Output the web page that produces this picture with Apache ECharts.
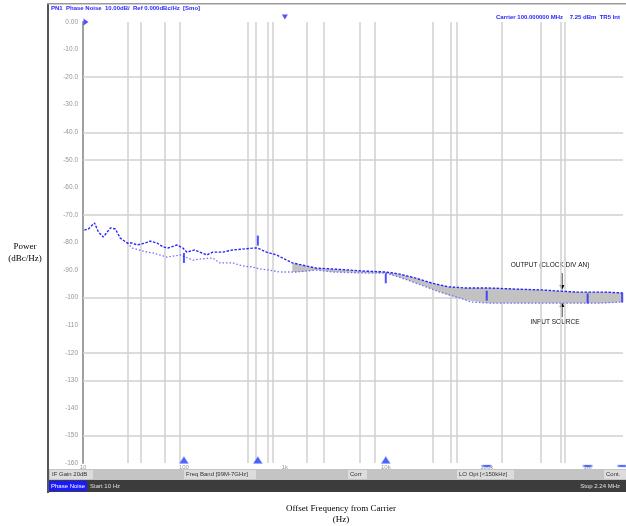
<!DOCTYPE html>
<html><head><meta charset="utf-8">
<script src="https://cdn.jsdelivr.net/npm/echarts@6/dist/echarts.min.js"></script>
<style>html,body{margin:0;padding:0;background:#fff}#c{width:626px;height:526px}</style>
</head><body><div id="c"></div>
<script>
// ---- data ----
const outputFreqHz = [10.3, 11.3, 13.0, 14.2, 15.9, 18.7, 20.9, 23.4, 27.4, 30.7, 34.4, 41.3, 46.2, 54.2, 62.1, 69.5, 85.3, 97.7, 107, 128, 144, 169, 193, 242, 304, 381, 501, 536, 658, 825, 945, 1186, 1487, 2042, 2936, 6350, 10000, 13430, 19760, 28400, 41770, 61400, 103500, 191000, 344500, 506000, 796000, 1469000, 2213000];
const outputDb = [-75.5, -75.1, -72.9, -76.2, -78.0, -74.7, -75.1, -78.4, -80.2, -80.2, -80.9, -80.2, -79.5, -80.2, -81.6, -82.0, -80.9, -82.0, -83.5, -82.7, -83.5, -84.5, -83.5, -83.5, -82.7, -82.4, -82.0, -82.0, -83.5, -84.5, -85.6, -87.4, -88.2, -89.3, -89.6, -90.4, -90.7, -91.4, -92.9, -94.7, -96.1, -96.5, -96.5, -96.9, -97.2, -97.6, -98.0, -98.0, -98.3];
const inputFreqHz = [27.4, 30.7, 43.2, 49.5, 68.1, 91.4, 123, 144, 193, 226, 304, 381, 478, 561, 703, 883, 1298, 2042, 2936, 6350, 10000, 13430, 19760, 34400, 54200, 70400, 110700, 274000, 593000, 1256000, 2213000];
const inputDb = [-80.2, -82.0, -83.5, -83.8, -85.3, -84.5, -86.4, -86.0, -85.6, -87.4, -87.4, -88.5, -88.9, -89.6, -90.0, -90.7, -90.7, -90.0, -90.7, -91.1, -91.1, -92.5, -94.7, -98.0, -100.1, -101.6, -102.0, -102.0, -102.0, -102.0, -101.6];
const bandFreqHz = [1186, 1487, 2042, 2936, 6350, 10000, 13430, 19760, 28400, 41770, 61400, 103500, 191000, 344500, 506000, 796000, 1469000, 2213000];
const bandUpperDb = [-87.4, -88.2, -89.3, -89.6, -90.4, -90.7, -91.4, -92.9, -94.7, -96.1, -96.5, -96.5, -96.9, -97.2, -97.6, -98.0, -98.0, -98.3];
const bandLowerDb = [-90.7, -90.7, -90.0, -90.7, -91.1, -91.1, -92.5, -94.7, -96.9, -99.1, -100.9, -102.0, -102.0, -102.0, -102.0, -102.0, -102.0, -101.6];
const markerFreqHz = [100, 540, 10000, 100000, 1000000, 2200000];
const markerDb = [-85.6, -79.3, -93.0, -99.3, -100.3, -100.0];
const activeMarkerHz = 1000;
const hGridDb = [-20, -40, -50, -70, -100, -120, -130, -150];
const vGridHz = [28, 37.5, 65, 91, 430, 515, 680, 760, 1650, 2430, 5530, 7780, 29200, 44000, 50400, 140800, 342700, 540600, 591600];
const xTickLabels = {10: '10', 100: '100', 1000: '1k', 10000: '10k', 100000: '100k', 1000000: '1M'};
const yMin = -160, yMax = 0, yStep = 10;
const xMin = 10, xMax = 2.24e6;

// ---- chart ----
const chart = echarts.init(document.getElementById('c'));
const blue = '#2626ff';
const gridColor = '#d0d0d0';
const pairs = (xs, ys) => xs.map((x, i) => [x, ys[i]]);

chart.setOption({
  animation: false,
  grid: {left: 83, right: 0, top: 22, bottom: 63},
  xAxis: {
    type: 'log', logBase: 10, min: xMin, max: xMax,
    axisLine: {show: false}, axisTick: {show: false}, splitLine: {show: false},
    axisLabel: {fontSize: 6, color: '#9a9a9a', margin: 1, fontFamily: 'Liberation Sans',
      formatter: v => xTickLabels[Math.round(v)] || ''}
  },
  yAxis: {
    type: 'value', min: yMin, max: yMax, interval: yStep,
    axisLine: {show: true, lineStyle: {color: '#a0a0a0', width: 2}},
    axisTick: {show: false}, splitLine: {show: false},
    axisLabel: {fontSize: 6.5, margin: 5, fontFamily: 'Liberation Sans',
      color: v => (v === 0 ? blue : '#959595'),
      formatter: v => (v === 0 ? '0.00' : (v > -100 ? v.toFixed(1) : String(v)))}
  },
  series: [
    {
      type: 'custom', name: 'band', silent: true, z: 2,
      data: bandFreqHz.map((f, i) => [f, bandUpperDb[i], bandLowerDb[i]]),
      encode: {x: 0, y: [1, 2]},
      renderItem: (params, api) => {
        if (params.dataIndex !== 0) return null;
        const pts = [];
        for (let i = 0; i < bandFreqHz.length; i++) pts.push(api.coord([bandFreqHz[i], bandUpperDb[i]]));
        for (let i = bandFreqHz.length - 1; i >= 0; i--) pts.push(api.coord([bandFreqHz[i], bandLowerDb[i]]));
        return {type: 'polygon', shape: {points: pts}, style: {fill: '#c2c2c2'}};
      }
    },
    {
      type: 'line', name: 'INPUT SOURCE', data: pairs(inputFreqHz, inputDb),
      symbol: 'none', z: 3, lineStyle: {color: '#6f6fff', width: 1.3, type: [1.5, 2]},
      markLine: {
        silent: true, z: 1, symbol: ['none', 'none'], label: {show: false},
        lineStyle: {color: gridColor, width: 1.5, type: 'solid'},
        emphasis: {disabled: true},
        data: vGridHz.map(f => ({xAxis: f})).concat(hGridDb.map(d => ({yAxis: d})))
      }
    },
    {
      type: 'line', name: 'OUTPUT', data: pairs(outputFreqHz, outputDb),
      symbol: 'none', z: 4, lineStyle: {color: blue, width: 1.4, type: [2.5, 1.5]}
    },
    {
      type: 'scatter', name: 'markers', clip: false, z: 5,
      data: pairs(markerFreqHz, markerDb), symbol: 'rect', symbolSize: [2, 10],
      itemStyle: {color: blue, opacity: 0.8}
    },
    {
      type: 'scatter', name: 'axisMarkers', clip: false, z: 6,
      data: markerFreqHz.map((f, i) => ({
        value: [f, yMin],
        symbol: i < 3 ? 'triangle' : 'rect',
        symbolSize: i < 3 ? [9, 7] : [8, 2],
        symbolOffset: i < 3 ? [0, -3] : [0, 3]
      })),
      itemStyle: {color: '#1f3dff', borderColor: '#8fa0ff', borderWidth: 0.5}
    },
    {
      type: 'scatter', name: 'refMarkers', clip: false, z: 6,
      data: [
        {value: [xMin, yMax], symbol: 'triangle', symbolRotate: -90, symbolSize: [7, 5], symbolOffset: [3, 0]},
        {value: [activeMarkerHz, yMax], symbol: 'triangle', symbolRotate: 180, symbolSize: [6, 5], symbolOffset: [0, -5]}
      ],
      itemStyle: {color: blue}
    }
  ],
  graphic: [
    // window frame
    {type: 'rect', shape: {x: 47, y: 3, width: 2, height: 490}, style: {fill: '#555'}, silent: true},
    {type: 'rect', shape: {x: 47, y: 3, width: 579, height: 1.5}, style: {fill: '#9a9a9a'}, silent: true},
    {type: 'text', x: 51, y: 5, style: {text: 'PN1  Phase Noise  10.00dB/  Ref 0.000dBc/Hz  [Smo]', fill: blue, font: 'bold 6px Liberation Sans'}, silent: true},
    {type: 'text', x: 620, y: 14, style: {text: 'Carrier 100.000000 MHz    7.25 dBm  TR5 Int', fill: blue, font: 'bold 6px Liberation Sans', align: 'right'}, silent: true},
    // status bars
    {type: 'rect', shape: {x: 49, y: 469, width: 577, height: 11}, style: {fill: '#c4c4c4'}, silent: true},
    {type: 'rect', shape: {x: 50, y: 470, width: 43, height: 9}, style: {fill: '#dcdcdc'}, silent: true},
    {type: 'rect', shape: {x: 184, y: 470, width: 72, height: 9}, style: {fill: '#dcdcdc'}, silent: true},
    {type: 'rect', shape: {x: 348, y: 470, width: 19, height: 9}, style: {fill: '#dcdcdc'}, silent: true},
    {type: 'rect', shape: {x: 457, y: 470, width: 57, height: 9}, style: {fill: '#dcdcdc'}, silent: true},
    {type: 'rect', shape: {x: 604, y: 470, width: 22, height: 9}, style: {fill: '#dcdcdc'}, silent: true},
    {type: 'text', x: 52, y: 471.5, style: {text: 'IF Gain 20dB', fill: '#333', font: '6px Liberation Sans'}, silent: true},
    {type: 'text', x: 186, y: 471.5, style: {text: 'Freq Band [99M-7GHz]', fill: '#333', font: '6px Liberation Sans'}, silent: true},
    {type: 'text', x: 350, y: 471.5, style: {text: 'Corr', fill: '#333', font: '6px Liberation Sans'}, silent: true},
    {type: 'text', x: 459, y: 471.5, style: {text: 'LO Opt [<150kHz]', fill: '#333', font: '6px Liberation Sans'}, silent: true},
    {type: 'text', x: 606, y: 471.5, style: {text: 'Cont.', fill: '#333', font: '6px Liberation Sans'}, silent: true},
    {type: 'rect', shape: {x: 49, y: 480, width: 577, height: 12}, style: {fill: '#3c3c3c'}, silent: true},
    {type: 'rect', shape: {x: 49, y: 481, width: 38, height: 10}, style: {fill: '#1a1aff'}, silent: true},
    {type: 'text', x: 51, y: 483, style: {text: 'Phase Noise', fill: '#fff', font: '6px Liberation Sans'}, silent: true},
    {type: 'text', x: 90, y: 483, style: {text: 'Start 10 Hz', fill: '#e0e0e0', font: '6px Liberation Sans'}, silent: true},
    {type: 'text', x: 620, y: 483, style: {text: 'Stop 2.24 MHz', fill: '#e0e0e0', font: '6px Liberation Sans', align: 'right'}, silent: true},
    // axis titles
    {type: 'text', x: 25, y: 241, style: {text: 'Power\n(dBc/Hz)', fill: '#000', font: '9px Liberation Serif', align: 'center', lineHeight: 12}, silent: true},
    {type: 'text', x: 341, y: 503, style: {text: 'Offset Frequency from Carrier\n(Hz)', fill: '#000', font: '9px Liberation Serif', align: 'center', lineHeight: 11}, silent: true},
    // annotations
    {type: 'text', x: 550, y: 262, style: {text: 'OUTPUT (CLOCK DIV AN)', fill: '#111', font: '6.5px Liberation Sans', align: 'center'}, silent: true},
    {type: 'line', shape: {x1: 562, y1: 273, x2: 562, y2: 288}, style: {stroke: '#000', lineWidth: 1}, silent: true},
    {type: 'polygon', shape: {points: [[559.5, 285], [564.5, 285], [562, 290]]}, style: {fill: '#000'}, silent: true},
    {type: 'text', x: 555, y: 319, style: {text: 'INPUT SOURCE', fill: '#111', font: '6.5px Liberation Sans', align: 'center'}, silent: true},
    {type: 'line', shape: {x1: 562, y1: 304, x2: 562, y2: 317}, style: {stroke: '#000', lineWidth: 1}, silent: true},
    {type: 'polygon', shape: {points: [[559.5, 307], [564.5, 307], [562, 302]]}, style: {fill: '#000'}, silent: true}
  ]
});
</script></body></html>
